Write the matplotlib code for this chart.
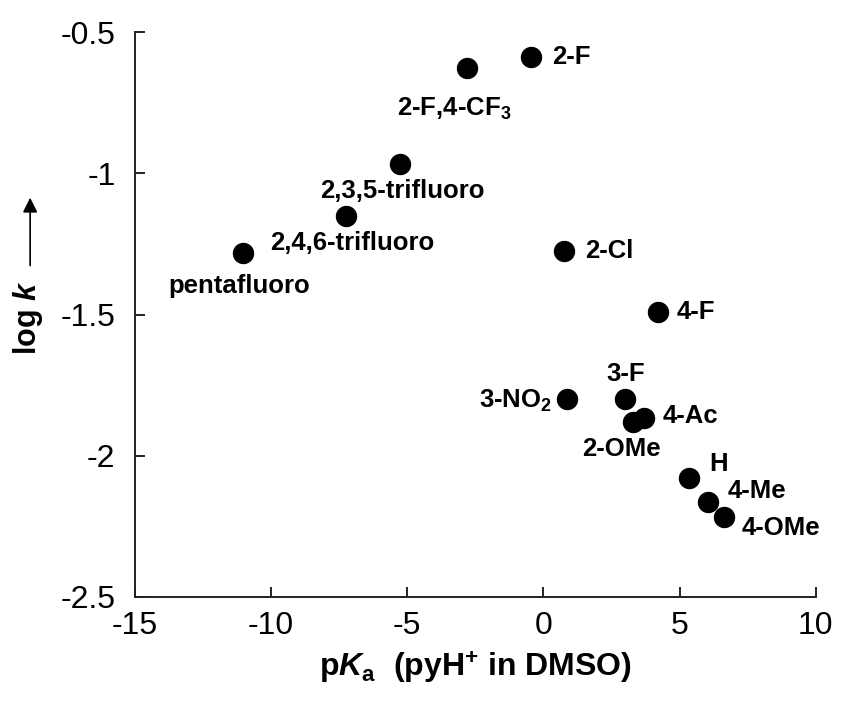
import matplotlib
matplotlib.use("Agg")
import matplotlib.pyplot as plt

plt.rcParams['font.family'] = ['Liberation Sans', 'DejaVu Sans']
plt.rcParams['mathtext.fontset'] = 'custom'
plt.rcParams['mathtext.rm'] = 'Liberation Sans:bold'
plt.rcParams['mathtext.bf'] = 'Liberation Sans:bold'
plt.rcParams['mathtext.it'] = 'Liberation Sans:italic:bold'

# data
names = ['pentafluoro', '2,4,6-trifluoro', '2,3,5-trifluoro', '2-F,4-CF$_3$', '2-F',
         '2-Cl', '4-F', '3-NO$_2$', '3-F', '4-Ac', '2-OMe', 'H', '4-Me', '4-OMe']
pka = [-11.03, -7.24, -5.26, -2.79, -0.44, 0.74, 4.19, 0.88, 2.98, 3.68, 3.27, 5.33, 6.03, 6.62]
logk = [-1.28, -1.149, -0.965, -0.628, -0.589, -1.273, -1.49, -1.798, -1.798, -1.865, -1.88,
        -2.078, -2.163, -2.216]

# label offsets in pixels and alignment
offsets = [(-75, -33, 'left'), (-76, -27, 'left'), (-80, -27, 'left'), (-70, -40, 'left'),
           (21, 0, 'left'), (22, 0, 'left'), (19, 0, 'left'), (-15, -2, 'right'),
           (-18, 25, 'left'), (19, 2, 'left'), (-50, -27, 'left'), (21, 14, 'left'),
           (20, 11, 'left'), (18, -11, 'left')]

fig = plt.figure(figsize=(8.41, 7.02), dpi=100)
ax = fig.add_axes([0.1605, 0.1496, 0.8095, 0.8044])

ax.plot(pka, logk, 'o', color='black', markersize=14.4, linestyle='none', zorder=3)

for n, x, y, (dx, dy, ha) in zip(names, pka, logk, offsets):
    ax.annotate(n, (x, y), xytext=(dx, dy), textcoords='offset pixels',
                ha=ha, va='center', fontsize=18.5, fontweight='bold')

ax.set_xlim(-15, 10)
ax.set_ylim(-2.5, -0.5)
ax.set_xticks([-15, -10, -5, 0, 5, 10])
ax.set_yticks([-2.5, -2, -1.5, -1, -0.5])
ax.set_yticklabels(['-2.5', '-2', '-1.5', '-1', '-0.5'])
ax.set_xticklabels(['-15', '-10', '-5', '0', '5', '10'])

for s in ['top', 'right']:
    ax.spines[s].set_visible(False)
for s in ['left', 'bottom']:
    ax.spines[s].set_linewidth(1.4)
    ax.spines[s].set_color('#222222')
ax.tick_params(direction='in', length=7, width=1.4, color='#222222',
               labelsize=23)
ax.tick_params(axis='y', pad=14)
ax.tick_params(axis='x', pad=10)

ax.set_xlabel(r'p$\it{K}$$_\mathbf{a}$  (pyH$^\mathbf{+}$ in DMSO)', fontsize=23,
              fontweight='bold', labelpad=6)

ax.text(-0.157, 0.494, r'log $\it{k}$', transform=ax.transAxes, rotation=90,
        ha='center', va='center', fontsize=22, fontweight='bold')
ax.annotate('', xy=(-0.154, 0.712), xytext=(-0.154, 0.582), xycoords='axes fraction',
            textcoords='axes fraction', annotation_clip=False,
            arrowprops=dict(arrowstyle='-|>', color='black', lw=1.2,
                            mutation_scale=22))

fig.savefig('out.png', dpi=100)
